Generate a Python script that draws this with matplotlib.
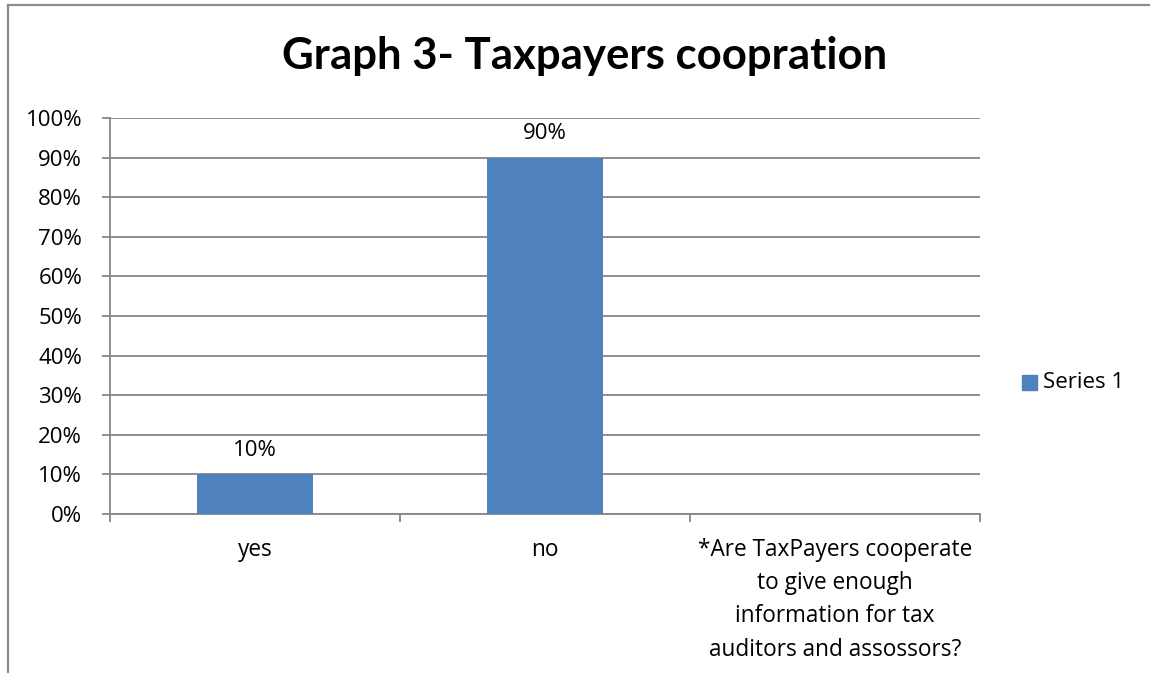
import numpy as np
import matplotlib.pyplot as plt
from matplotlib.patches import Rectangle
from matplotlib.lines import Line2D

plt.rcParams['font.family'] = ['Open Sans', 'DejaVu Sans']

categories = ['yes', 'no', '*Are TaxPayers cooperate\nto give enough\ninformation for tax\nauditors and assossors?']
values = [0.10, 0.90, np.nan]
bar_labels = ['10%', '90%', '']
series_name = 'Series 1'
title = 'Graph 3- Taxpayers coopration'

W, H = 1150, 673
fig = plt.figure(figsize=(W / 100, H / 100), dpi=100)

# chart frame (top and left edge only)
fig.add_artist(Line2D([8 / W, 1], [1 - 5 / H, 1 - 5 / H], color='#8c8c8c', lw=1.6))
fig.add_artist(Line2D([8 / W, 8 / W], [0, 1 - 5 / H], color='#8c8c8c', lw=1.6))

ax = fig.add_axes([110 / W, 1 - 514 / H, 870 / W, 396 / H])
x = np.arange(len(categories))
ax.bar(x, values, width=0.4, color='#4F81BD', zorder=3)

for xi, v, lab in zip(x, values, bar_labels):
    if not np.isnan(v):
        ax.annotate(lab, (xi, v), xytext=(0, 13.5), textcoords='offset points',
                    ha='center', va='baseline', fontsize=16, color='black')

ax.set_xlim(-0.5, len(categories) - 0.5)
ax.set_ylim(0, 1)
ax.set_yticks(np.arange(0, 1.01, 0.1))
ax.set_yticklabels([f'{int(round(t * 100))}%' for t in np.arange(0, 1.01, 0.1)])
ax.yaxis.grid(True, color='#868686', lw=1.3, zorder=0)

ax.set_xticks(x)
ax.set_xticklabels(categories, linespacing=1.52)
ax.set_xticks(np.arange(-0.5, len(categories)), minor=True)
ax.tick_params(axis='x', which='major', length=0, pad=17, labelsize=16.3)
ax.tick_params(axis='x', which='minor', length=6, width=1.3, color='#868686', direction='out')
ax.tick_params(axis='y', length=6, width=1.3, color='#868686', pad=14, labelsize=16)

for s in ['top', 'right']:
    ax.spines[s].set_visible(False)
for s in ['left', 'bottom']:
    ax.spines[s].set_color('#868686')
    ax.spines[s].set_linewidth(1.3)

fig.text(585 / W, 1 - 56 / H, title, ha='center', va='center',
         fontsize=31.5, fontweight='bold', family=['Lato', 'DejaVu Sans'])

# legend
fig.add_artist(Rectangle((1022 / W, 1 - 390 / H), 14.5 / W, 15 / H,
                         transform=fig.transFigure, color='#4F81BD'))
fig.text(1043 / W, 1 - 382 / H, series_name, ha='left', va='center', fontsize=16)

fig.savefig('out.png', dpi=100)
